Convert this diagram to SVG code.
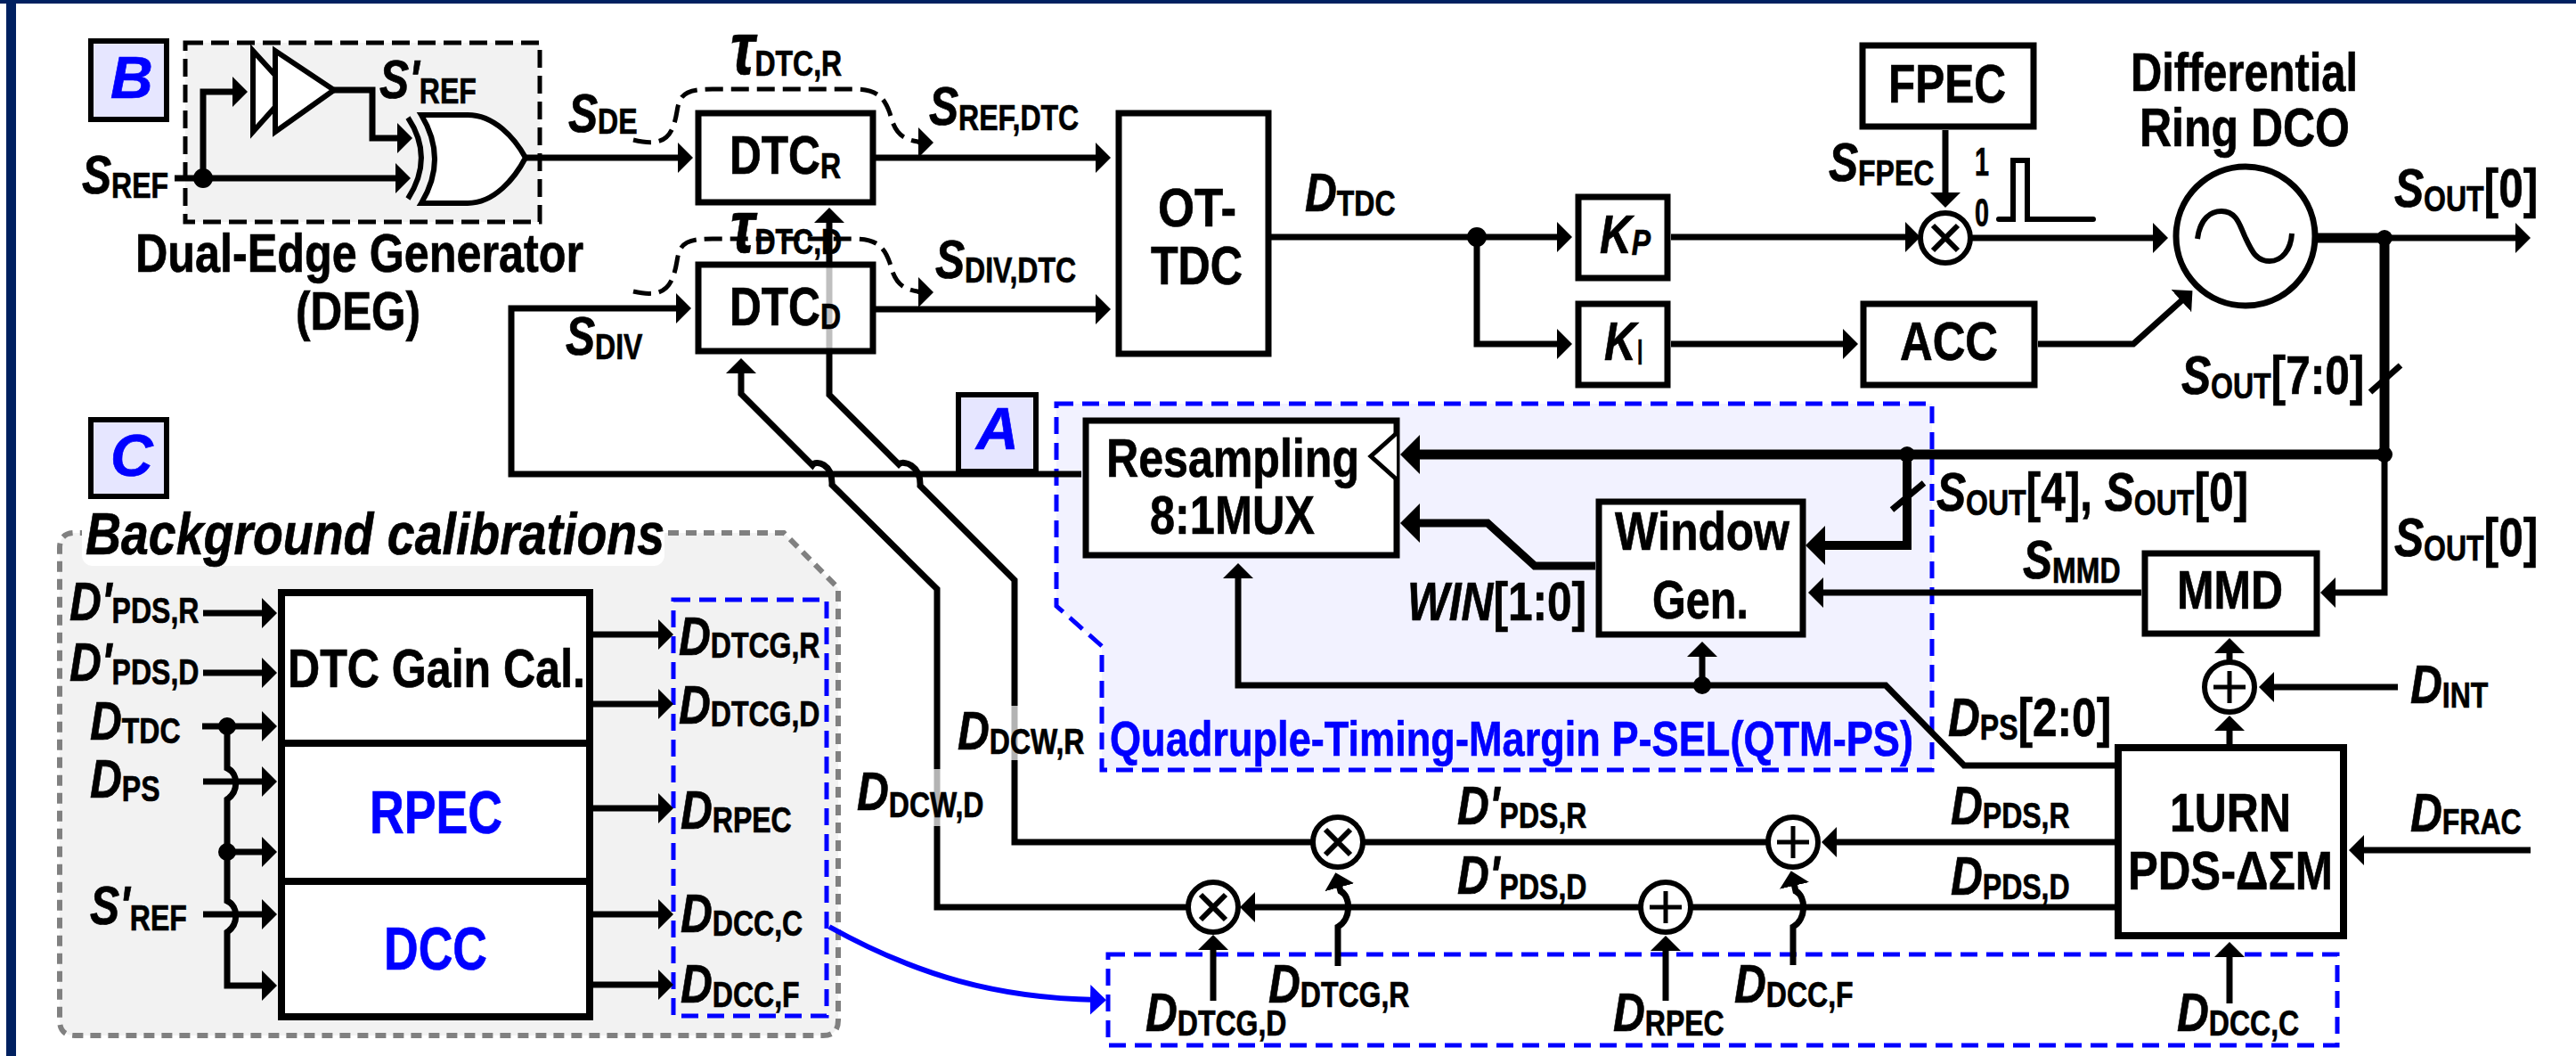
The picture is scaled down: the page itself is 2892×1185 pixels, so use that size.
<svg xmlns="http://www.w3.org/2000/svg" width="2892" height="1185" viewBox="0 0 2892 1185">
<style>
text{font-family:"Liberation Sans",Arial,sans-serif;font-weight:700;font-size:62px;fill:#000;stroke:#000;stroke-width:.7}
.i{font-style:italic}
.u{font-size:40px;font-style:normal}
text.blue{fill:#00f;stroke:#00f}
.box{fill:#fff;stroke:#000;stroke-width:7}
.tag{fill:#e6e6ff;stroke:#000;stroke-width:6}
text.tagt{font-size:66px;font-style:italic;fill:#00f;stroke:#00f}
.w{fill:none;stroke:#000;stroke-width:7}
.a{marker-end:url(#a)}
.thick{fill:none;stroke:#000;stroke-width:10}
.tk{marker-end:url(#b)}
.dot{fill:#000}
.bd{fill:none;stroke:#00f;stroke-width:5;stroke-dasharray:19 10}
.dash{fill:none;stroke:#000;stroke-width:5;stroke-dasharray:20 9}
.gate{fill:#fff;stroke:#000;stroke-width:6}
</style>
<defs>
<marker id="a" markerUnits="userSpaceOnUse" markerWidth="18" markerHeight="36" refX="7" refY="18" orient="auto"><path d="M0 1L17 18L0 35z"/></marker>
<marker id="ab" markerUnits="userSpaceOnUse" markerWidth="20" markerHeight="36" refX="7" refY="18" orient="auto"><path d="M0 1L18 18L0 35z" fill="#00f"/></marker>
<marker id="b" markerUnits="userSpaceOnUse" markerWidth="24" markerHeight="46" refX="8" refY="23" orient="auto"><path d="M0 1L22 23L0 45z"/></marker>
<g id="mul"><circle r="28" fill="#fff" stroke="#000" stroke-width="6"/><path d="M-14-14L14 14M14-14L-14 14" stroke="#000" stroke-width="6"/></g>
<g id="add"><circle r="28" fill="#fff" stroke="#000" stroke-width="6"/><path d="M-18 0H18M0-18V18" stroke="#000" stroke-width="5"/></g>
</defs>

<g id="frame"><rect x="0" y="0" width="2892" height="1185" fill="#fff"/><rect x="0" y="0" width="2892" height="4" fill="#002060"/><rect x="7" y="0" width="11" height="1185" fill="#002060"/></g>

<g id="regions">
<rect x="208" y="48" width="398" height="201" class="dash" style="fill:#f2f2f2"/>
<path d="M1186 453H2169V864H1237V725L1186 680Z" style="fill:#f2f2ff" class="bd"/>
<path d="M90 598H880L941 660V1145Q941 1162 924 1162H84Q67 1162 67 1145V615Q67 598 84 598Z" fill="#f2f2f2" stroke="#808080" stroke-width="6" stroke-dasharray="12 8"/>
<rect x="92" y="572" width="654" height="63" rx="12" fill="#fff"/>
<rect x="756" y="673" width="172" height="467" class="bd"/>
<rect x="1244" y="1071" width="1380" height="102" class="bd"/>
</g>

<g id="connectors">
<path class="w a" d="M196 200H451"/>
<path class="w a" d="M228 200V103H268"/>
<path class="w a" d="M375 101H418V155H453"/>
<path class="w a" d="M590 177H768"/>
<path class="dash" d="M711 157C745 165 755 155 760 125C763 105 770 100 800 100H960C985 100 993 110 999 127C1005 150 1012 158 1040 160"/>
<path class="dash" d="M711 327C745 335 755 323 760 293C763 273 770 268 800 268H960C985 268 993 278 999 295C1005 318 1012 326 1040 328"/>
<path class="w a" d="M1030 160H1038" style="stroke-width:4"/>
<path class="w a" d="M1030 328H1038" style="stroke-width:4"/>
<path class="w a" d="M983 177H1237"/>
<path class="w a" d="M983 347H1237"/>
<path class="w a" d="M1214 532H574V346H766"/>
<path class="w a" d="M1334 1018H1052V661L934 544C935 520 916 516 912 522L832 442V412"/>
<path class="w a" d="M1474 945H1139V651L1033 545C1034 522 1014 516 1009 521L931 443V243"/>
<path class="w a" d="M1427 266H1755"/>
<path class="w a" d="M1658 266V386H1755"/>
<path class="w a" d="M1876 266H2146"/>
<path class="w a" d="M1876 386H2076"/>
<path class="w a" d="M2184 146V223"/>
<path class="w a" d="M2212 267H2424"/>
<path class="w a" d="M2288 386H2395L2454 333"/>
<path class="thick" d="M2602 267H2677V511" style="stroke-width:11"/>
<path class="w a" d="M2677 267H2831"/>
<path class="w" d="M2661 440L2695 410M2124 572L2160 542"/>
<path class="thick tk" d="M2677 510H1586" style="stroke-width:11"/>
<path class="thick tk" d="M2141 510V612H2041"/>
<path class="thick tk" d="M1791 635H1723L1670 587H1586" style="stroke-width:9"/>
<path class="w a" d="M2677 510V665H2615"/>
<path class="w a" d="M2404 665H2040"/>
<path class="w a" d="M2374 859H2205L2117 769H1390V642"/>
<path class="w a" d="M1911 769V730"/>
<path class="w a" d="M2503 835V813"/>
<path class="w a" d="M2503 743V726"/>
<path class="w a" d="M2692 771H2546"/>
<path class="w a" d="M2841 954H2647"/>
<path class="w a" d="M2374 945H2055"/>
<path class="w" d="M1985 945H1530"/>
<path class="w a" d="M2374 1018H1402"/>
<path class="w a" d="M1362 1123V1059"/>
<path class="w a" d="M1502 1084V1040C1517 1032 1517 1006 1505 1000L1502 989"/>
<path class="w a" d="M1870 1123V1060"/>
<path class="w a" d="M2013 1083V1040C2028 1032 2028 1006 2016 1000L2013 987"/>
<path class="w a" d="M2503 1126V1067"/>
<path class="w a" d="M228 688H301"/>
<path class="w a" d="M228 755H301"/>
<path class="w a" d="M227 815H301"/>
<path class="w a" d="M228 877H301"/>
<path class="w a" d="M255 956H301"/>
<path class="w a" d="M228 1026H301"/>
<path class="w a" d="M255 815V862C268 868 268 888 255 897V1011C268 1017 268 1037 255 1046V1106H301"/>
<path class="w a" d="M666 712H746"/>
<path class="w a" d="M666 790H746"/>
<path class="w a" d="M666 907H746"/>
<path class="w a" d="M666 1026H746"/>
<path class="w a" d="M666 1105H746"/>
<path d="M931 1040C1030 1095 1120 1120 1231 1122" fill="none" stroke="#00f" stroke-width="6" style="marker-end:url(#ab)"/>
<circle class="dot" cx="228" cy="200" r="11"/>
<circle class="dot" cx="1658" cy="266" r="11"/>
<circle class="dot" cx="2677" cy="267" r="9"/>
<circle class="dot" cx="2677" cy="510" r="9"/>
<circle class="dot" cx="2141" cy="510" r="9"/>
<circle class="dot" cx="1911" cy="769" r="10"/>
<circle class="dot" cx="255" cy="815" r="10"/>
<circle class="dot" cx="255" cy="956" r="10"/>
</g>

<g id="tag-b"><rect class="tag" x="102" y="46" width="85" height="88"/><text class="tagt" x="124" y="110">B</text></g>
<g id="tag-c"><rect class="tag" x="102" y="471" width="85" height="86"/><text class="tagt" x="124" y="534">C</text></g>
<g id="tag-a"><rect class="tag" x="1076" y="443" width="87" height="86"/><text class="tagt" x="1096" y="504">A</text></g>

<g id="deg">
<path class="gate" d="M284 57V148L325 102Z"/>
<path class="gate" d="M309 57V148L375 101Z"/>
<path class="w" d="M458 132C478 162 478 192 458 223" style="stroke-width:6"/>
<path class="gate" d="M473 129H525C555 129 578 155 590 177C578 200 555 228 525 228H473C493 195 493 162 473 129Z"/>
<text x="152" y="305" textLength="503" lengthAdjust="spacingAndGlyphs">Dual-Edge Generator</text>
<text x="332" y="370" textLength="140" lengthAdjust="spacingAndGlyphs">(DEG)</text>
</g>

<g id="dtc-r"><rect class="box" x="784" y="127" width="196" height="100"/>
<text transform="translate(819 195) scale(.8 1)">DTC<tspan class="u" dy="5">R</tspan></text></g>
<g id="dtc-d"><rect class="box" x="784" y="297" width="196" height="97" style="fill-opacity:.75"/>
<text transform="translate(819 365) scale(.8 1)">DTC<tspan class="u" dy="4">D</tspan></text></g>
<g id="ot-tdc"><rect class="box" x="1256" y="127" width="168" height="270"/>
<text x="1300" y="254" textLength="88" lengthAdjust="spacingAndGlyphs">OT-</text>
<text x="1292" y="319" textLength="103" lengthAdjust="spacingAndGlyphs">TDC</text></g>
<g id="kp"><rect class="box" x="1772" y="221" width="100" height="91"/>
<text class="i" transform="translate(1796 284) scale(.8 1)">K<tspan style="font-size:40px" dy="2">P</tspan></text></g>
<g id="ki"><rect class="box" x="1772" y="341" width="100" height="91"/>
<text class="i" transform="translate(1801 404) scale(.8 1)">K<tspan class="u" style="font-weight:400" dy="5">I</tspan></text></g>
<g id="fpec"><rect class="box" x="2091" y="51" width="192" height="91"/>
<text x="2120" y="115" textLength="132" lengthAdjust="spacingAndGlyphs">FPEC</text></g>
<g id="acc"><rect class="box" x="2092" y="341" width="192" height="91"/>
<text x="2133" y="404" textLength="110" lengthAdjust="spacingAndGlyphs">ACC</text></g>
<g id="fpec-mix"><use href="#mul" x="2184" y="267"/>
<text x="2217" y="197" textLength="16" lengthAdjust="spacingAndGlyphs" style="font-size:44px">1</text>
<text x="2217" y="254" textLength="16" lengthAdjust="spacingAndGlyphs" style="font-size:44px">0</text>
<path d="M2244 246H2260V180H2276V246H2350" fill="none" stroke="#000" stroke-width="6" stroke-linecap="round"/></g>
<g id="dco"><circle cx="2521" cy="265" r="78" fill="#fff" stroke="#000" stroke-width="7"/>
<path d="M2467 268C2470 245 2482 237 2494 237C2512 237 2515 255 2521 267C2528 282 2533 293 2548 293C2562 293 2572 280 2573 262" fill="none" stroke="#000" stroke-width="6"/>
<text x="2392" y="102" textLength="255" lengthAdjust="spacingAndGlyphs">Differential</text>
<text x="2402" y="164" textLength="236" lengthAdjust="spacingAndGlyphs">Ring DCO</text></g>
<g id="mux"><rect class="box" x="1219" y="472" width="349" height="151"/>
<path d="M1568 486L1539 512L1568 538" fill="#fff" stroke="#000" stroke-width="5"/>
<text x="1242" y="535" textLength="284" lengthAdjust="spacingAndGlyphs">Resampling</text>
<text x="1291" y="599" textLength="185" lengthAdjust="spacingAndGlyphs">8:1MUX</text></g>
<g id="window"><rect class="box" x="1795" y="563" width="229" height="149"/>
<text x="1813" y="617" textLength="196" lengthAdjust="spacingAndGlyphs">Window</text>
<text x="1855" y="694" textLength="108" lengthAdjust="spacingAndGlyphs">Gen.</text></g>
<g id="mmd"><rect class="box" x="2408" y="621" width="193" height="90"/>
<text x="2444" y="683" textLength="119" lengthAdjust="spacingAndGlyphs">MMD</text></g>
<g id="urn"><rect class="box" x="2378" y="839" width="253" height="211" style="stroke-width:8"/>
<text x="2436" y="933" textLength="136" lengthAdjust="spacingAndGlyphs">1URN</text>
<text x="2389" y="998" textLength="230" lengthAdjust="spacingAndGlyphs">PDS-ΔΣM</text></g>
<g id="add-int"><use href="#add" x="2503" y="771"/></g>
<g id="add-r"><use href="#add" x="2013" y="945"/></g>
<g id="add-d"><use href="#add" x="1870" y="1018"/></g>
<g id="mul-r"><use href="#mul" x="1502" y="945"/></g>
<g id="mul-d"><use href="#mul" x="1362" y="1018"/></g>
<g id="cal">
<rect class="box" x="316" y="665" width="346" height="476" style="stroke-width:8"/>
<path d="M316 834H662M316 989H662" stroke="#000" stroke-width="8"/>
<text x="323" y="771" textLength="334" lengthAdjust="spacingAndGlyphs">DTC Gain Cal.</text>
<text class="blue" x="415" y="935" textLength="149" lengthAdjust="spacingAndGlyphs" style="font-size:68px">RPEC</text>
<text class="blue" x="431" y="1088" textLength="116" lengthAdjust="spacingAndGlyphs" style="font-size:68px">DCC</text>
<text class="i" x="96" y="622" textLength="650" lengthAdjust="spacingAndGlyphs" style="font-size:66px">Background calibrations</text>
</g>

<g id="labels">
<rect x="1132" y="792" width="14" height="61" fill="#fff" opacity=".7"/>
<rect x="1045" y="863" width="14" height="64" fill="#fff" opacity=".7"/>
<text transform="translate(92 217) scale(.8 1)"><tspan class="i">S</tspan><tspan class="u" dy="5">REF</tspan></text>
<text transform="translate(426 110) scale(.8 1)"><tspan class="i">S'</tspan><tspan class="u" dy="6">REF</tspan></text>
<text transform="translate(638 148) scale(.8 1)"><tspan class="i">S</tspan><tspan class="u" dy="2">DE</tspan></text>
<text transform="translate(820 83) scale(.8 1)"><tspan class="i" style="font-size:84px">τ</tspan><tspan class="u" dy="2">DTC,R</tspan></text>
<text transform="translate(820 283) scale(.8 1)"><tspan class="i" style="font-size:84px">τ</tspan><tspan class="u" dy="2">DTC,D</tspan></text>
<text transform="translate(1043 140) scale(.8 1)"><tspan class="i">S</tspan><tspan class="u" dy="6">REF,DTC</tspan></text>
<text transform="translate(1050 312) scale(.8 1)"><tspan class="i">S</tspan><tspan class="u" dy="5">DIV,DTC</tspan></text>
<text transform="translate(635 398) scale(.8 1)"><tspan class="i">S</tspan><tspan class="u" dy="5">DIV</tspan></text>
<text transform="translate(1465 237) scale(.8 1)"><tspan class="i">D</tspan><tspan class="u" dy="5">TDC</tspan></text>
<text transform="translate(2053 203) scale(.8 1)"><tspan class="i">S</tspan><tspan class="u" dy="5">FPEC</tspan></text>
<text transform="translate(2688 232) scale(.8 1)"><tspan class="i">S</tspan><tspan class="u" dy="5">OUT</tspan><tspan dy="-5">[0]</tspan></text>
<text transform="translate(2449 442) scale(.8 1)"><tspan class="i">S</tspan><tspan class="u" dy="5">OUT</tspan><tspan dy="-5">[7:0]</tspan></text>
<text transform="translate(2174 573) scale(.8 1)"><tspan class="i">S</tspan><tspan class="u" dy="5">OUT</tspan><tspan dy="-5">[4], </tspan><tspan class="i">S</tspan><tspan class="u" dy="5">OUT</tspan><tspan dy="-5">[0]</tspan></text>
<text transform="translate(2688 624) scale(.8 1)"><tspan class="i">S</tspan><tspan class="u" dy="5">OUT</tspan><tspan dy="-5">[0]</tspan></text>
<text transform="translate(2271 649) scale(.8 1)"><tspan class="i">S</tspan><tspan class="u" dy="5">MMD</tspan></text>
<text transform="translate(1580 696) scale(.8 1)"><tspan class="i">WIN</tspan>[1:0]</text>
<text transform="translate(2187 826) scale(.8 1)"><tspan class="i">D</tspan><tspan class="u" dy="4">PS</tspan><tspan dy="-4">[2:0]</tspan></text>
<text transform="translate(2706 789) scale(.8 1)"><tspan class="i">D</tspan><tspan class="u" dy="5">INT</tspan></text>
<text transform="translate(2706 933) scale(.8 1)"><tspan class="i">D</tspan><tspan class="u" dy="3">FRAC</tspan></text>
<text transform="translate(2190 925) scale(.8 1)"><tspan class="i">D</tspan><tspan class="u" dy="4">PDS,R</tspan></text>
<text transform="translate(2190 1004) scale(.8 1)"><tspan class="i">D</tspan><tspan class="u" dy="5">PDS,D</tspan></text>
<text transform="translate(1636 925) scale(.8 1)"><tspan class="i">D'</tspan><tspan class="u" dy="4">PDS,R</tspan></text>
<text transform="translate(1636 1003) scale(.8 1)"><tspan class="i">D'</tspan><tspan class="u" dy="6">PDS,D</tspan></text>
<text transform="translate(1075 841) scale(.8 1)"><tspan class="i">D</tspan><tspan class="u" dy="5">DCW,R</tspan></text>
<text transform="translate(962 909) scale(.8 1)"><tspan class="i">D</tspan><tspan class="u" dy="8">DCW,D</tspan></text>
<text transform="translate(1286 1157) scale(.8 1)"><tspan class="i">D</tspan><tspan class="u" dy="5">DTCG,D</tspan></text>
<text transform="translate(1424 1125) scale(.8 1)"><tspan class="i">D</tspan><tspan class="u" dy="5">DTCG,R</tspan></text>
<text transform="translate(1811 1157) scale(.8 1)"><tspan class="i">D</tspan><tspan class="u" dy="5">RPEC</tspan></text>
<text transform="translate(1947 1125) scale(.8 1)"><tspan class="i">D</tspan><tspan class="u" dy="5">DCC,F</tspan></text>
<text transform="translate(2444 1157) scale(.8 1)"><tspan class="i">D</tspan><tspan class="u" dy="5">DCC,C</tspan></text>
<text transform="translate(78 696) scale(.8 1)"><tspan class="i">D'</tspan><tspan class="u" dy="3">PDS,R</tspan></text>
<text transform="translate(78 764) scale(.8 1)"><tspan class="i">D'</tspan><tspan class="u" dy="4">PDS,D</tspan></text>
<text transform="translate(101 830) scale(.8 1)"><tspan class="i">D</tspan><tspan class="u" dy="4">TDC</tspan></text>
<text transform="translate(101 895) scale(.8 1)"><tspan class="i">D</tspan><tspan class="u" dy="4">PS</tspan></text>
<text transform="translate(101 1037) scale(.8 1)"><tspan class="i">S'</tspan><tspan class="u" dy="7">REF</tspan></text>
<text transform="translate(762 735) scale(.8 1)"><tspan class="i">D</tspan><tspan class="u" dy="3">DTCG,R</tspan></text>
<text transform="translate(762 812) scale(.8 1)"><tspan class="i">D</tspan><tspan class="u" dy="3">DTCG,D</tspan></text>
<text transform="translate(764 930) scale(.8 1)"><tspan class="i">D</tspan><tspan class="u" dy="4">RPEC</tspan></text>
<text transform="translate(764 1046) scale(.8 1)"><tspan class="i">D</tspan><tspan class="u" dy="4">DCC,C</tspan></text>
<text transform="translate(764 1125) scale(.8 1)"><tspan class="i">D</tspan><tspan class="u" dy="5">DCC,F</tspan></text>
<text class="blue" x="1246" y="848" textLength="902" lengthAdjust="spacingAndGlyphs" style="font-size:56px">Quadruple-Timing-Margin P-SEL(QTM-PS)</text>
</g>
</svg>
